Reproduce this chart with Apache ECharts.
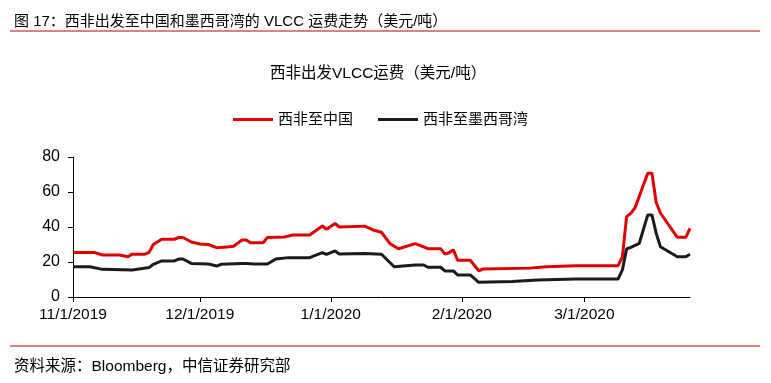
<!DOCTYPE html>
<html><head><meta charset="utf-8">
<script src="https://cdn.jsdelivr.net/npm/echarts@6/dist/echarts.min.js"></script>
<style>html,body{margin:0;padding:0;background:#fff}#c{width:771px;height:383px}</style>
</head><body><div id="c"></div>
<script>
const headerText = '图 17：西非出发至中国和墨西哥湾的 VLCC 运费走势（美元/吨）';
const chartTitle = '西非出发VLCC运费（美元/吨）';
const sourceText = '资料来源：Bloomberg，中信证券研究部';
const seriesNames = ['西非至中国', '西非至墨西哥湾'];

const chinaDates = ['2019-11-01','2019-11-06','2019-11-08','2019-11-12','2019-11-14','2019-11-15','2019-11-18','2019-11-19','2019-11-20','2019-11-22','2019-11-25','2019-11-26','2019-11-27','2019-11-29','2019-12-01','2019-12-03','2019-12-05','2019-12-08','2019-12-09','2019-12-11','2019-12-12','2019-12-13','2019-12-16','2019-12-17','2019-12-21','2019-12-23','2019-12-27','2019-12-30','2019-12-31','2020-01-02','2020-01-03','2020-01-09','2020-01-11','2020-01-13','2020-01-15','2020-01-17','2020-01-21','2020-01-24','2020-01-27','2020-01-28','2020-01-29','2020-01-30','2020-01-31','2020-02-03','2020-02-05','2020-02-06','2020-02-17','2020-02-21','2020-02-28','2020-03-09','2020-03-10','2020-03-11','2020-03-12','2020-03-13','2020-03-16','2020-03-17','2020-03-18','2020-03-19','2020-03-23','2020-03-25','2020-03-26'];
const chinaValues = [25.5,25.5,24,24,23,24.5,24.5,25.5,30,33,33,34,34,31.4,30.3,30,28.2,28.7,29,32.6,32.6,31,31,34,34.3,35.4,35.4,40.6,38.7,42,40,40.5,38.3,37,30.5,27.6,30.5,27.6,27.6,24.5,25.3,27,21,21,15,16,16.5,17.3,17.9,17.9,23,45.9,47.8,51,70.7,70.7,54,48,34.1,34.1,39.2];

const gulfDates = ['2019-11-01','2019-11-05','2019-11-08','2019-11-15','2019-11-19','2019-11-20','2019-11-22','2019-11-25','2019-11-26','2019-11-27','2019-11-29','2019-12-03','2019-12-05','2019-12-06','2019-12-11','2019-12-12','2019-12-14','2019-12-17','2019-12-19','2019-12-22','2019-12-27','2019-12-30','2019-12-31','2020-01-02','2020-01-03','2020-01-09','2020-01-13','2020-01-16','2020-01-21','2020-01-23','2020-01-24','2020-01-27','2020-01-28','2020-01-30','2020-01-31','2020-02-03','2020-02-05','2020-02-13','2020-02-19','2020-02-28','2020-03-09','2020-03-10','2020-03-11','2020-03-12','2020-03-14','2020-03-16','2020-03-17','2020-03-18','2020-03-19','2020-03-23','2020-03-25','2020-03-26'];
const gulfValues = [17.3,17.3,15.8,15.4,16.8,18.7,20.6,20.6,21.7,21.7,19.2,18.9,17.7,18.7,19.2,19.2,18.8,18.9,21.7,22.5,22.5,25.3,24.4,26.3,24.6,24.8,24.4,17.3,18.3,18.3,17,17,14.9,14.9,12.6,12.6,8.4,8.8,9.7,10.3,10.3,15.5,27.5,28.4,30.7,46.9,46.9,36.4,28.7,23,23,24.4];

const xTickDates = ['2019-11-01','2019-12-01','2020-01-01','2020-02-01','2020-03-01'];
const xTickLabels = ['11/1/2019','12/1/2019','1/1/2020','2/1/2020','3/1/2020'];
const xMin = '2019-11-01', xMax = '2020-03-26';
const yTicks = [0,20,40,60,80];

// day offset from the first date (used as the numeric x scale)
const DAY = 86400000;
function toDay(s){const p=s.split('-').map(Number);return Math.round((Date.UTC(p[0],p[1]-1,p[2])-Date.UTC(2019,10,1))/DAY);}
const tickDays = xTickDates.map(toDay);
const FONT = '"Liberation Sans", Arial, "Noto Sans CJK SC", sans-serif';
const RED = '#E00000', BLACK = '#1E1A1A';

const chart = echarts.init(document.getElementById('c'));
chart.setOption({
  animation:false,
  textStyle:{fontFamily:FONT},
  title:[
    {text:headerText,left:9,top:9,textStyle:{fontSize:15,fontWeight:'normal',color:'#000',fontFamily:FONT}},
    {text:chartTitle,left:265,top:61,textStyle:{fontSize:15.5,fontWeight:'normal',color:'#000',fontFamily:FONT}},
    {text:sourceText,left:9,top:354,textStyle:{fontSize:15.5,fontWeight:'normal',color:'#000',fontFamily:FONT}}
  ],
  graphic:[
    {type:'line',shape:{x1:10,y1:31,x2:760,y2:31},style:{stroke:'#C00000',lineWidth:1}},
    {type:'line',shape:{x1:10,y1:346,x2:760,y2:346},style:{stroke:'#C00000',lineWidth:1}}
  ],
  legend:{top:107,left:228,itemWidth:40,itemHeight:3,itemGap:25,icon:'rect',
    textStyle:{fontSize:15,color:'#000',fontFamily:FONT},
    data:[{name:seriesNames[0],itemStyle:{color:RED}},{name:seriesNames[1],itemStyle:{color:BLACK}}]},
  grid:{left:73,right:81,top:157,bottom:86,containLabel:false},
  xAxis:{type:'value',min:toDay(xMin),max:toDay(xMax),
    axisLine:{lineStyle:{color:'#000',width:1}},
    axisTick:{show:true,length:5,inside:false,lineStyle:{color:'#000'},customValues:tickDays},
    axisLabel:{customValues:tickDays,margin:10,fontSize:15.5,color:'#000',fontFamily:FONT,
      formatter:function(v){const i=tickDays.indexOf(Math.round(v));return i>=0?xTickLabels[i]:'';}},
    splitLine:{show:false}},
  yAxis:{type:'value',min:yTicks[0],max:yTicks[yTicks.length-1],interval:20,
    axisLine:{show:true,lineStyle:{color:'#000',width:1}},
    axisTick:{show:true,length:5,lineStyle:{color:'#000'}},
    axisLabel:{margin:13,fontSize:16,color:'#000',fontFamily:FONT},
    splitLine:{show:false}},
  series:[
    {name:seriesNames[0],type:'line',showSymbol:false,symbol:'none',
     lineStyle:{color:RED,width:3},itemStyle:{color:RED},
     data:chinaDates.map((d,i)=>[toDay(d),chinaValues[i]])},
    {name:seriesNames[1],type:'line',showSymbol:false,symbol:'none',
     lineStyle:{color:BLACK,width:3},itemStyle:{color:BLACK},
     data:gulfDates.map((d,i)=>[toDay(d),gulfValues[i]])}
  ]
});
</script></body></html>
